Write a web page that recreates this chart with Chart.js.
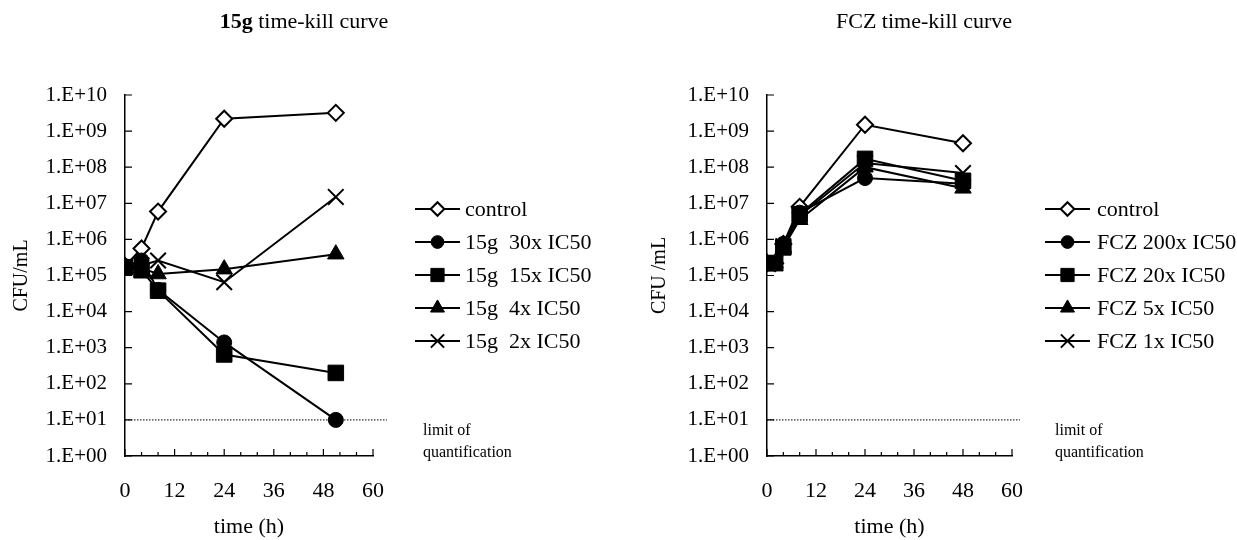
<!DOCTYPE html>
<html>
<head>
<meta charset="utf-8">
<script src="https://cdn.jsdelivr.net/npm/chart.js@4.4.1/dist/chart.umd.min.js"></script>
<style>
  html, body { margin: 0; padding: 0; background: #fff; }
  #wrap { position: relative; width: 1237px; height: 540px; }
  .panel { position: absolute; top: 0; height: 540px; }
</style>
</head>
<body>
<div id="wrap">
  <div class="panel" style="left:0;width:618px"><canvas id="leftChart"></canvas></div>
  <div class="panel" style="left:618px;width:619px"><canvas id="rightChart"></canvas></div>
</div>
<script>
// ---- data ----
// left panel: compound 15g
const timesLeft = [0, 4, 8, 24, 51];
const control15g = [1.8e5, 5.6e5, 5.9e6, 2.2e9, 3.2e9];
const g15x30 = [1.8e5, 2.6e5, 4.0e4, 1.4e3, 1.0e1];
const g15x15 = [1.7e5, 1.4e5, 3.8e4, 6.5e2, 2.0e2];
const g15x4 = [1.8e5, 1.6e5, 1.1e5, 1.5e5, 3.9e5];
const g15x2 = [1.8e5, 1.9e5, 2.6e5, 6.5e4, 1.5e7];
const labelsLeft = ['control', '15g  30x IC50', '15g  15x IC50', '15g  4x IC50', '15g  2x IC50'];

// right panel: fluconazole
const timesRight = [0, 2, 4, 8, 24, 48];
const controlFcz = [2.2e5, 2.2e5, 7.5e5, 8.0e6, 1.5e9, 4.6e8];
const fcz200 = [2.2e5, 2.2e5, 7.5e5, 5.5e6, 5.0e7, 3.5e7];
const fcz20 = [2.2e5, 2.2e5, 6.0e5, 5.0e6, 1.7e8, 4.2e7];
const fcz5 = [2.2e5, 2.2e5, 6.0e5, 3.5e6, 1.0e8, 2.6e7];
const fcz1 = [2.2e5, 2.2e5, 6.5e5, 4.5e6, 1.3e8, 6.9e7];
const labelsRight = ['control', 'FCZ 200x IC50', 'FCZ 20x IC50', 'FCZ 5x IC50', 'FCZ 1x IC50'];

// limit of quantification and axis ticks
const loq = 10;
const yTicks = [1e0, 1e1, 1e2, 1e3, 1e4, 1e5, 1e6, 1e7, 1e8, 1e9, 1e10];
const xLabels = [0, 12, 24, 36, 48, 60];
const xMinorStep = 4;

const FONT = 'Liberation Serif, Times New Roman, serif';

// marker looks, same order as the series (z: lower is drawn on top)
const markers = [
  { style: 'rectRot', r: 8, fill: '#fff', bw: 2, z: 4 },
  { style: 'circle', r: 7.5, fill: '#000', bw: 1, z: 3 },
  { style: 'rect', r: 11, fill: '#000', bw: 1, z: 0 },
  { style: 'triangle', r: 9.5, fill: '#000', bw: 1, z: 1 },
  { style: 'crossRot', r: 11, fill: '#000', bw: 2, z: 2 }
];
// legend markers are a bit smaller
const legendScale = 0.85;

function fmtExp(v) {
  const e = Math.round(Math.log10(v));
  return '1.E+' + String(e).padStart(2, '0');
}

// draws inner ticks, the dotted limit line, title, legend and notes
const decor = {
  id: 'decor',
  afterDraw(chart, args, o) {
    const { ctx, chartArea: a, scales: { x, y } } = chart;
    ctx.save();

    // inward tick marks
    ctx.strokeStyle = '#000';
    ctx.lineWidth = 1.2;
    ctx.beginPath();
    yTicks.forEach(v => {
      const py = y.getPixelForValue(v);
      ctx.moveTo(a.left, py);
      ctx.lineTo(a.left + 7, py);
    });
    for (let t = 0; t <= 60; t += xMinorStep) {
      const px = x.getPixelForValue(t);
      const len = t % 12 === 0 ? 7 : 4;
      ctx.moveTo(px, a.bottom);
      ctx.lineTo(px, a.bottom - len);
    }
    ctx.stroke();

    // dotted limit of quantification
    const ly = y.getPixelForValue(loq);
    ctx.setLineDash([1.5, 1.5]);
    ctx.lineWidth = 1;
    ctx.beginPath();
    ctx.moveTo(a.left, ly);
    ctx.lineTo(a.right + o.loqExtra, ly);
    ctx.stroke();
    ctx.setLineDash([]);

    ctx.fillStyle = '#000';
    ctx.textBaseline = 'alphabetic';
    ctx.textAlign = 'left';
    ctx.font = '16px ' + FONT;
    ctx.fillText('limit of', o.noteX, o.noteY);
    ctx.fillText('quantification', o.noteX, o.noteY + 22);

    // title, partly bold
    ctx.textBaseline = 'middle';
    let total = 0;
    o.title.forEach(p => {
      ctx.font = (p.bold ? 'bold ' : '') + '22px ' + FONT;
      p.w = ctx.measureText(p.text).width;
      total += p.w;
    });
    let tx = o.titleX - total / 2;
    o.title.forEach(p => {
      ctx.font = (p.bold ? 'bold ' : '') + '22px ' + FONT;
      ctx.fillText(p.text, tx, o.titleY);
      tx += p.w;
    });

    // legend: line with marker, then label
    ctx.font = '22px ' + FONT;
    chart.data.datasets.forEach((ds, i) => {
      const ey = o.legendY + i * o.legendStep;
      ctx.strokeStyle = '#000';
      ctx.lineWidth = 2;
      ctx.beginPath();
      ctx.moveTo(o.legendX, ey);
      ctx.lineTo(o.legendX + 45, ey);
      ctx.stroke();
      const m = markers[i];
      ctx.fillStyle = m.fill;
      ctx.lineWidth = m.bw;
      Chart.helpers.drawPoint(ctx, { pointStyle: m.style, radius: m.r * legendScale, borderWidth: m.bw, rotation: 0 },
        o.legendX + 22.5, ey);
      ctx.fillStyle = '#000';
      ctx.fillText(ds.label, o.legendX + o.textGap, ey + 1);
    });

    ctx.restore();
  }
};

function buildChart(id, times, series, labels, cfg) {
  const datasets = series.map((vals, i) => ({
    label: labels[i],
    data: times.map((t, j) => ({ x: t, y: vals[j] })),
    order: markers[i].z,
    borderColor: '#000',
    borderWidth: 2,
    tension: 0,
    fill: false,
    pointStyle: markers[i].style,
    pointRadius: markers[i].r,
    pointHoverRadius: markers[i].r,
    pointBackgroundColor: markers[i].fill,
    pointBorderColor: '#000',
    pointBorderWidth: markers[i].bw
  }));

  return new Chart(document.getElementById(id), {
    type: 'line',
    data: { datasets: datasets },
    plugins: [decor],
    options: {
      responsive: true,
      maintainAspectRatio: false,
      animation: false,
      events: [],
      layout: { padding: { left: 0, right: cfg.padRight, top: 95, bottom: 0 } },
      plugins: {
        legend: { display: false },
        tooltip: { enabled: false },
        decor: cfg.decor
      },
      scales: {
        x: {
          type: 'linear',
          min: 0,
          max: 60,
          afterBuildTicks: s => { s.ticks = xLabels.map(v => ({ value: v })); },
          afterFit: s => { s.height = 84; },
          ticks: { color: '#000', font: { family: FONT, size: 22 }, padding: 22, maxRotation: 0, autoSkip: false },
          grid: { display: false, drawTicks: false },
          border: { display: true, color: '#000', width: 1.5 },
          title: { display: true, text: 'time (h)', color: '#000', font: { family: FONT, size: 22, lineHeight: 1.2 }, padding: { top: 0, bottom: 0 } }
        },
        y: {
          type: 'logarithmic',
          min: 1,
          max: 1e10,
          afterBuildTicks: s => { s.ticks = yTicks.map(v => ({ value: v })); },
          afterFit: s => { s.width = cfg.yWidth; },
          ticks: { color: '#000', font: { family: FONT, size: 21 }, padding: 18, autoSkip: false, callback: v => fmtExp(v) },
          grid: { display: false, drawTicks: false },
          border: { display: true, color: '#000', width: 1.5 },
          title: { display: true, text: cfg.yTitle, color: '#000', font: { family: FONT, size: 20, lineHeight: 1.2 }, padding: { top: cfg.yTitlePad, bottom: 0 } }
        }
      }
    }
  });
}

buildChart('leftChart', timesLeft, [control15g, g15x30, g15x15, g15x4, g15x2], labelsLeft, {
  padRight: 245,
  yWidth: 125,
  yTitle: 'CFU/mL',
  yTitlePad: 10,
  decor: {
    title: [{ text: '15g', bold: true }, { text: ' time-kill curve' }],
    titleX: 304, titleY: 22,
    legendX: 415, legendY: 209, legendStep: 33, textGap: 50,
    noteX: 423, noteY: 435,
    loqExtra: 14
  }
});

buildChart('rightChart', timesRight, [controlFcz, fcz200, fcz20, fcz5, fcz1], labelsRight, {
  padRight: 225,
  yWidth: 149,
  yTitle: 'CFU /mL',
  yTitlePad: 30,
  decor: {
    title: [{ text: 'FCZ time-kill curve' }],
    titleX: 306, titleY: 22,
    legendX: 427, legendY: 209, legendStep: 33, textGap: 52,
    noteX: 437, noteY: 435,
    loqExtra: 8
  }
});
</script>
</body>
</html>
